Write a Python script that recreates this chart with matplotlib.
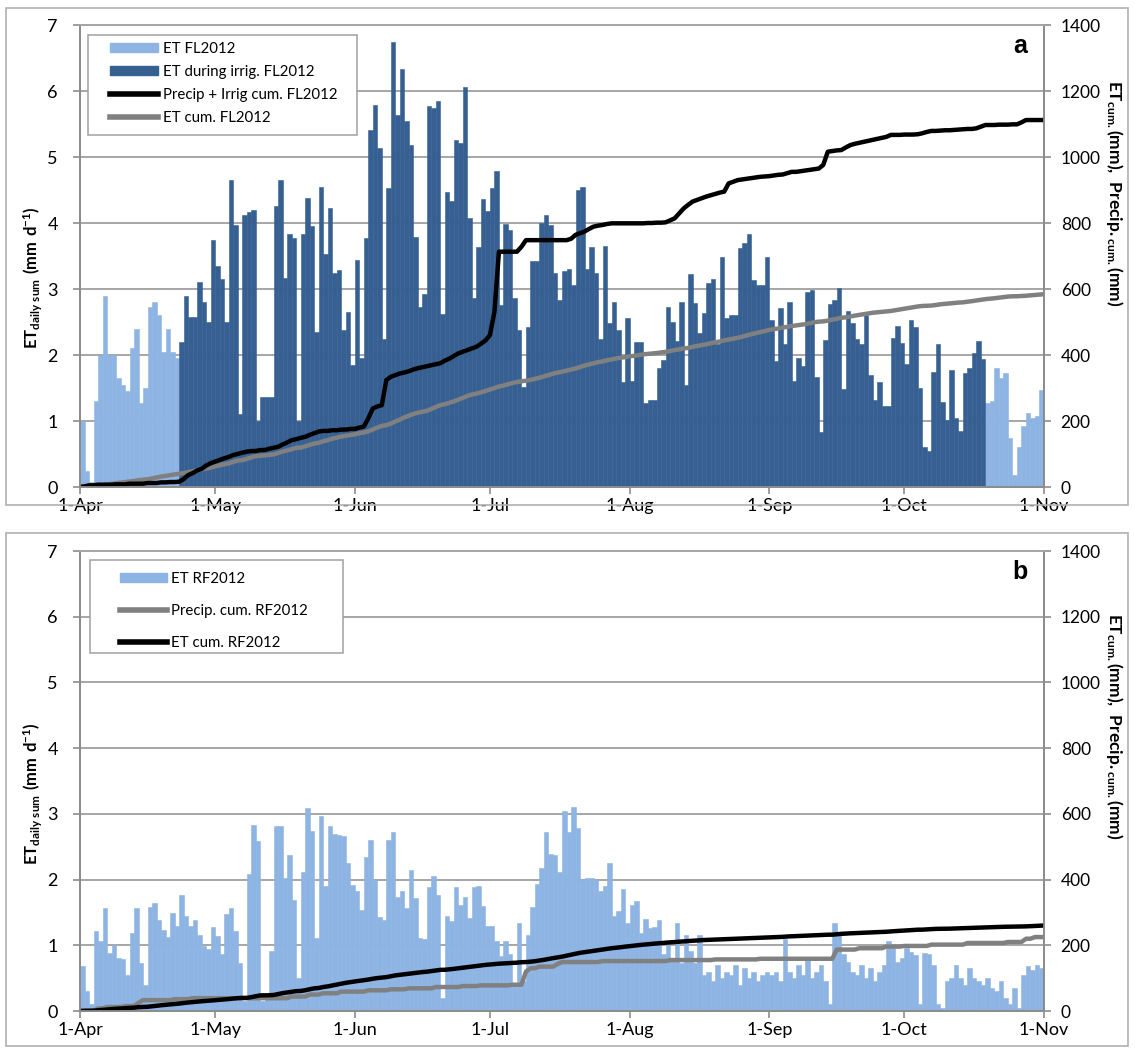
import matplotlib
matplotlib.use('Agg')
import matplotlib.pyplot as plt
import matplotlib.dates as mdates
from matplotlib.patches import Patch, Rectangle
from matplotlib.lines import Line2D
import numpy as np
import pandas as pd

plt.rcParams['font.family'] = ['Lato', 'DejaVu Sans']
plt.rcParams['mathtext.fontset'] = 'custom'
plt.rcParams['mathtext.rm'] = 'Lato'
plt.rcParams['mathtext.bf'] = 'Lato:bold'

LIGHT = '#8db4e2'
DARK = '#376092'
GRID = '#a6a6a6'
AXIS = '#8c8c8c'

# daily ET, irrigated field 2012 (mm/d)
et_fl_apr = [1.0, 0.25, 0.08, 1.3, 2.0, 2.9, 2.0, 2.0, 1.65, 1.55, 1.45, 2.1, 2.4, 1.27, 1.5,
             2.73, 2.8, 2.6, 2.05, 2.4, 2.05, 1.95, 2.2, 2.9, 2.58, 2.58, 3.1, 2.8, 2.5, 3.75]
et_fl_may = [3.35, 3.15, 2.5, 4.65, 3.97, 1.1, 4.12, 4.17, 4.2, 1.0, 1.37, 1.37, 1.37, 4.26, 4.65,
             3.16, 3.84, 3.77, 1.0, 3.84, 4.38, 3.95, 2.35, 4.55, 3.53, 4.23, 3.24, 3.29, 2.38, 2.65, 1.85]
et_fl_jun = [3.44, 1.96, 3.77, 5.41, 5.79, 5.13, 2.24, 4.53, 6.75, 5.63, 6.34, 5.54, 5.18, 3.79, 2.73,
             2.92, 5.78, 5.75, 5.85, 2.62, 4.47, 4.33, 5.26, 5.21, 6.06, 4.07, 2.86, 3.63, 4.36, 4.18]
et_fl_jul = [4.53, 4.79, 2.76, 3.98, 3.89, 2.86, 2.38, 1.52, 2.43, 3.42, 3.42, 4.0, 4.12, 3.97, 3.24,
             2.83, 3.27, 3.3, 3.06, 4.5, 4.55, 3.31, 3.63, 3.24, 2.25, 3.65, 2.49, 2.81, 2.38, 1.59, 2.56]
et_fl_aug = [1.6, 2.19, 2.19, 1.28, 1.32, 1.32, 1.81, 1.92, 2.72, 2.5, 2.21, 2.81, 1.55, 3.22, 2.79,
             2.33, 2.63, 3.09, 3.15, 2.16, 3.49, 2.56, 2.6, 2.6, 3.62, 3.69, 3.83, 3.14, 3.06, 3.06, 3.49]
et_fl_sep = [2.53, 1.91, 2.71, 2.16, 2.81, 1.61, 1.96, 1.84, 2.95, 2.98, 1.66, 0.84, 2.23, 2.77, 2.83,
             3.01, 1.49, 2.67, 2.48, 2.24, 2.16, 2.6, 1.7, 1.32, 1.59, 1.22, 1.22, 2.26, 2.44, 2.18]
et_fl_oct = [1.87, 2.53, 2.43, 1.5, 0.61, 0.55, 1.75, 2.16, 1.29, 1.02, 1.77, 1.04, 0.85, 1.72, 1.8,
             2.03, 2.21, 1.94, 1.28, 1.3, 1.81, 1.65, 1.72, 0.74, 0.18, 0.6, 0.93, 1.12, 1.04, 1.08, 1.47]

# daily precipitation + irrigation, irrigated field (mm)
pi_fl_apr = [2, 3, 0, 2, 0, 0, 0, 1, 0, 0, 2, 0, 0, 0, 2, 0, 0, 2, 0, 1, 0, 1, 8, 12, 6, 8, 5, 10, 7, 5]
pi_fl_may = [5, 5, 4, 6, 3, 4, 3, 2, 0, 3, 0, 4, 3, 3, 7, 6, 7, 3, 4, 3, 6, 5, 5, 2, 0, 2, 0, 2, 0, 2, 0]
pi_fl_jun = [4, 3, 25, 30, 6, 4, 76, 10, 5, 5, 3, 4, 5, 4, 3, 3, 3, 3, 3, 8, 6, 8, 8, 5, 5, 5, 5, 9, 10, 16]
pi_fl_jul = [71, 182, 0, 0, 0, 0, 15, 20, 0, 0, 0, 0, 0, 0, 0, 0, 0, 4, 12, 5, 5, 8, 7, 3, 2, 3, 2, 0, 0, 0, 0]
pi_fl_aug = [0, 0, 0, 1, 0, 1, 0, 1, 6, 6, 15, 15, 11, 10, 5, 5, 5, 4, 4, 4, 3, 25, 5, 5, 2, 2, 2, 2, 2, 1, 1]
pi_fl_sep = [2, 2, 1, 4, 4, 0, 2, 2, 2, 2, 2, 11, 40, 2, 2, 1, 8, 7, 4, 3, 3, 3, 3, 3, 3, 3, 6, 0, 0, 1]
pi_fl_oct = [0, 0, 1, 3, 4, 3, 0, 1, 1, 0, 1, 1, 1, 1, 0, 2, 5, 5, 0, 0, 1, 0, 0, 1, 0, 6, 7, 0, 0, 0, 0]

# daily ET, rainfed field 2012 (mm/d)
et_rf_apr = [0.68, 0.3, 0.1, 1.21, 1.06, 1.57, 0.89, 1.01, 0.81, 0.79, 0.55, 1.18, 1.56, 0.73, 0.4,
             1.58, 1.65, 1.39, 1.23, 1.13, 1.49, 1.3, 1.76, 1.45, 1.29, 1.38, 1.16, 0.99, 0.94, 1.28]
et_rf_may = [1.14, 0.87, 1.48, 1.57, 1.21, 0.73, 0.15, 2.08, 2.83, 2.58, 0.15, 0.2, 0.92, 2.81, 2.82,
             2.03, 2.37, 1.69, 0.5, 2.12, 3.09, 2.74, 1.11, 2.96, 1.9, 2.81, 2.69, 2.68, 2.67, 2.25, 1.92]
et_rf_jun = [1.83, 1.54, 2.34, 2.6, 1.99, 1.43, 1.38, 2.6, 2.73, 1.74, 1.82, 1.56, 2.15, 1.72, 1.11,
             1.09, 1.89, 2.05, 1.76, 0.2, 1.44, 1.37, 1.88, 1.62, 1.74, 1.42, 1.89, 1.9, 1.6, 1.3]
et_rf_jul = [1.29, 1.06, 0.83, 1.06, 0.86, 0.4, 1.34, 0.45, 1.15, 1.59, 1.94, 2.18, 2.73, 2.39, 2.37,
             2.12, 3.04, 2.73, 3.1, 2.78, 2.0, 2.02, 2.03, 1.99, 1.83, 1.9, 2.25, 1.44, 1.52, 1.86, 1.34]
et_rf_aug = [1.62, 1.67, 1.19, 1.4, 1.27, 1.28, 1.38, 0.86, 1.01, 0.78, 1.34, 0.73, 1.15, 0.91, 0.73,
             1.16, 0.55, 0.6, 0.45, 0.7, 0.5, 0.6, 0.55, 0.7, 0.4, 0.65, 0.5, 0.6, 0.45, 0.55, 0.6]
et_rf_sep = [0.55, 0.6, 0.45, 1.1, 0.6, 0.5, 0.7, 0.55, 0.8, 0.5, 0.6, 0.7, 0.45, 0.1, 1.34,
             1.18, 0.86, 0.75, 0.6, 0.55, 0.7, 0.5, 0.65, 0.45, 0.6, 0.7, 1.06, 0.96, 0.75, 0.8]
et_rf_oct = [0.96, 0.9, 0.85, 0.1, 0.88, 0.86, 0.7, 0.1, 0.05, 0.45, 0.5, 0.7, 0.5, 0.4, 0.65,
             0.5, 0.45, 0.4, 0.5, 0.35, 0.3, 0.45, 0.2, 0.1, 0.35, 0.05, 0.55, 0.68, 0.62, 0.7, 0.65]

# daily precipitation, rainfed field (mm)
p_rf_apr = [0, 0, 0, 8, 0, 4, 0, 0, 0, 3, 0, 0, 10, 8, 0, 0, 0, 0, 0, 0, 3, 0, 0, 0, 3, 0, 0, 0, 0, 0]
p_rf_may = [0, 0, 0, 0, 0, 0, 0, 0, 0, 0, 0, 0, 0, 0, 0, 0, 5, 0, 0, 0, 6, 0, 0, 4, 0, 0, 0, 5, 0, 0, 0]
p_rf_jun = [0, 0, 4, 0, 0, 0, 0, 3, 0, 0, 0, 3, 0, 0, 0, 0, 0, 4, 0, 0, 0, 0, 0, 3, 0, 0, 0, 2, 0, 0]
p_rf_jul = [0, 0, 0, 0, 2, 0, 0, 40, 10, 0, 5, 0, 0, 0, 8, 6, 0, 0, 0, 0, 0, 0, 0, 0, 3, 0, 0, 0, 0, 0, 0]
p_rf_aug = [0, 0, 0, 0, 0, 0, 0, 0, 3, 0, 0, 0, 0, 0, 0, 0, 0, 0, 2, 0, 0, 0, 0, 0, 0, 0, 0, 0, 2, 0, 0]
p_rf_sep = [0, 0, 0, 0, 0, 0, 0, 0, 0, 0, 0, 0, 0, 0, 28, 0, 0, 0, 0, 4, 0, 0, 0, 0, 0, 5, 0, 0, 0, 2]
p_rf_oct = [0, 0, 0, 0, 0, 4, 0, 0, 0, 0, 0, 0, 0, 5, 0, 0, 0, 0, 0, 0, 0, 0, 3, 0, 0, 0, 10, 0, 5, 0, 0]

irrig_start = pd.Timestamp('2012-04-23')
irrig_end = pd.Timestamp('2012-10-18')

days = pd.date_range('2012-04-01', '2012-10-31', freq='D')
edges = pd.date_range('2012-04-01', '2012-11-01', freq='D')

et_fl = np.array(et_fl_apr + et_fl_may + et_fl_jun + et_fl_jul + et_fl_aug + et_fl_sep + et_fl_oct)
pi_fl = np.array(pi_fl_apr + pi_fl_may + pi_fl_jun + pi_fl_jul + pi_fl_aug + pi_fl_sep + pi_fl_oct)
et_rf = np.array(et_rf_apr + et_rf_may + et_rf_jun + et_rf_jul + et_rf_aug + et_rf_sep + et_rf_oct)
p_rf = np.array(p_rf_apr + p_rf_may + p_rf_jun + p_rf_jul + p_rf_aug + p_rf_sep + p_rf_oct)

W, H = 1135, 1052
LEFT_LABEL = r'$\mathbf{ET_{daily\ sum}\ (mm\ d^{-1})}$'
RIGHT_LABEL = r'$\mathbf{ET_{cum.}(mm),\ Precip._{cum.}(mm)}$'


def cum(x):
    return np.r_[0, np.cumsum(x)]


def setup(ax, ax2):
    ax.set_xlim(edges[0], edges[-1])
    ax.set_ylim(0, 7)
    ax2.set_ylim(0, 1400)
    ax.set_yticks(range(8))
    ax2.set_yticks(range(0, 1401, 200))
    ax.xaxis.set_major_locator(mdates.MonthLocator())
    ax.xaxis.set_major_formatter(mdates.DateFormatter('%-d-%b'))
    ax.yaxis.grid(True, color=GRID, lw=1.4)
    ax.set_axisbelow(True)
    for a in (ax, ax2):
        for s in a.spines.values():
            s.set_color(AXIS)
            s.set_linewidth(1.3)
        a.spines['top'].set_color(GRID)
        a.tick_params(direction='out', length=5, width=1.2, color=AXIS, labelsize=13)
    ax.tick_params(axis='x', pad=3)
    ax.tick_params(axis='y', pad=11)
    ax2.tick_params(axis='y', pad=7, labelsize=12.5)


def legend_box(ax, x0, x1, top, bot, ax_top, ax_bot):
    # white legend panel with a grey frame, given in figure pixels
    h = ax_bot - ax_top
    y0 = (ax_bot - bot) / h
    y1 = (ax_bot - top) / h
    ax.add_patch(Rectangle(((x0 - 80) / 964, y0), (x1 - x0) / 964, y1 - y0,
                           transform=ax.transAxes, fc='white', ec='#a0a0a0', lw=1.1,
                           zorder=4, clip_on=False))


fig = plt.figure(figsize=(11.35, 10.52), dpi=100)

# outer frames of both panels
for top, bot in ((8, 505), (533, 1046)):
    fig.patches.append(Rectangle((6 / W, 1 - bot / H), (1128 - 6) / W, (bot - top) / H,
                                 transform=fig.transFigure, fill=False, ec='#b0b0b0', lw=1.2))

ax_a = fig.add_axes([80 / W, 1 - 487 / H, 964 / W, 462 / H])
ax_a2 = ax_a.twinx()
ax_b = fig.add_axes([80 / W, 1 - 1011 / H, 964 / W, 460 / H])
ax_b2 = ax_b.twinx()

# panel a: irrigated field
irr = (days >= irrig_start) & (days <= irrig_end)
ax_a.bar(days[~irr], et_fl[~irr], width=1, align='edge', color=LIGHT, ec=LIGHT, lw=0.4)
ax_a.bar(days[irr], et_fl[irr], width=1, align='edge', color=DARK, ec=DARK, lw=0.4)
ax_a2.plot(edges, cum(et_fl), color='#808080', lw=3.2)
ax_a2.plot(edges, cum(pi_fl), color='black', lw=3.2)
setup(ax_a, ax_a2)
legend_box(ax_a2, 88, 357, 35, 135, 25, 487)
handles = [Patch(color=LIGHT), Patch(color=DARK),
           Line2D([], [], color='black', lw=4), Line2D([], [], color='#808080', lw=4)]
labels = ['ET FL2012', 'ET during irrig. FL2012', 'Precip + Irrig cum. FL2012', 'ET cum. FL2012']
leg = ax_a2.legend(handles, labels, loc='upper left',
                   bbox_to_anchor=((110 - 80) / 964, (487 - 42) / 462),
                   borderaxespad=0, borderpad=0, fontsize=10.8, handlelength=3.2,
                   handleheight=0.55, handletextpad=0.3, labelspacing=0.6, frameon=False)
leg.set_zorder(5)
ax_a2.text(0.975, 0.955, 'a', transform=ax_a2.transAxes, ha='center', va='center',
           fontsize=18, fontweight='bold', family='Liberation Sans')
fig.text(33 / W, 1 - 278 / H, LEFT_LABEL, rotation=90, ha='center', va='center', fontsize=12)
fig.text(1114 / W, 1 - 193 / H, RIGHT_LABEL, rotation=270, ha='center', va='center', fontsize=12.5)

# panel b: rainfed field
ax_b.bar(days, et_rf, width=1, align='edge', color=LIGHT, ec=LIGHT, lw=0.4)
ax_b2.plot(edges, cum(p_rf), color='#808080', lw=3.2)
ax_b2.plot(edges, cum(et_rf), color='black', lw=3.2)
setup(ax_b, ax_b2)
legend_box(ax_b2, 90, 343, 560, 653, 551, 1011)
handles = [Patch(color=LIGHT), Line2D([], [], color='#808080', lw=4), Line2D([], [], color='black', lw=4)]
labels = ['ET RF2012', 'Precip. cum. RF2012', 'ET cum. RF2012']
leg = ax_b2.legend(handles, labels, loc='upper left',
                   bbox_to_anchor=((120 - 80) / 964, (1011 - 572) / 460),
                   borderaxespad=0, borderpad=0, fontsize=10.8, handlelength=3.1,
                   handleheight=0.55, handletextpad=0.33, labelspacing=1.2, frameon=False)
leg.set_zorder(5)
ax_b2.text(0.975, 0.955, 'b', transform=ax_b2.transAxes, ha='center', va='center',
           fontsize=18, fontweight='bold', family='Liberation Sans')
fig.text(33 / W, 1 - 794 / H, LEFT_LABEL, rotation=90, ha='center', va='center', fontsize=12)
fig.text(1114 / W, 1 - 726 / H, RIGHT_LABEL, rotation=270, ha='center', va='center', fontsize=12.5)

fig.savefig('out.png', dpi=100)
